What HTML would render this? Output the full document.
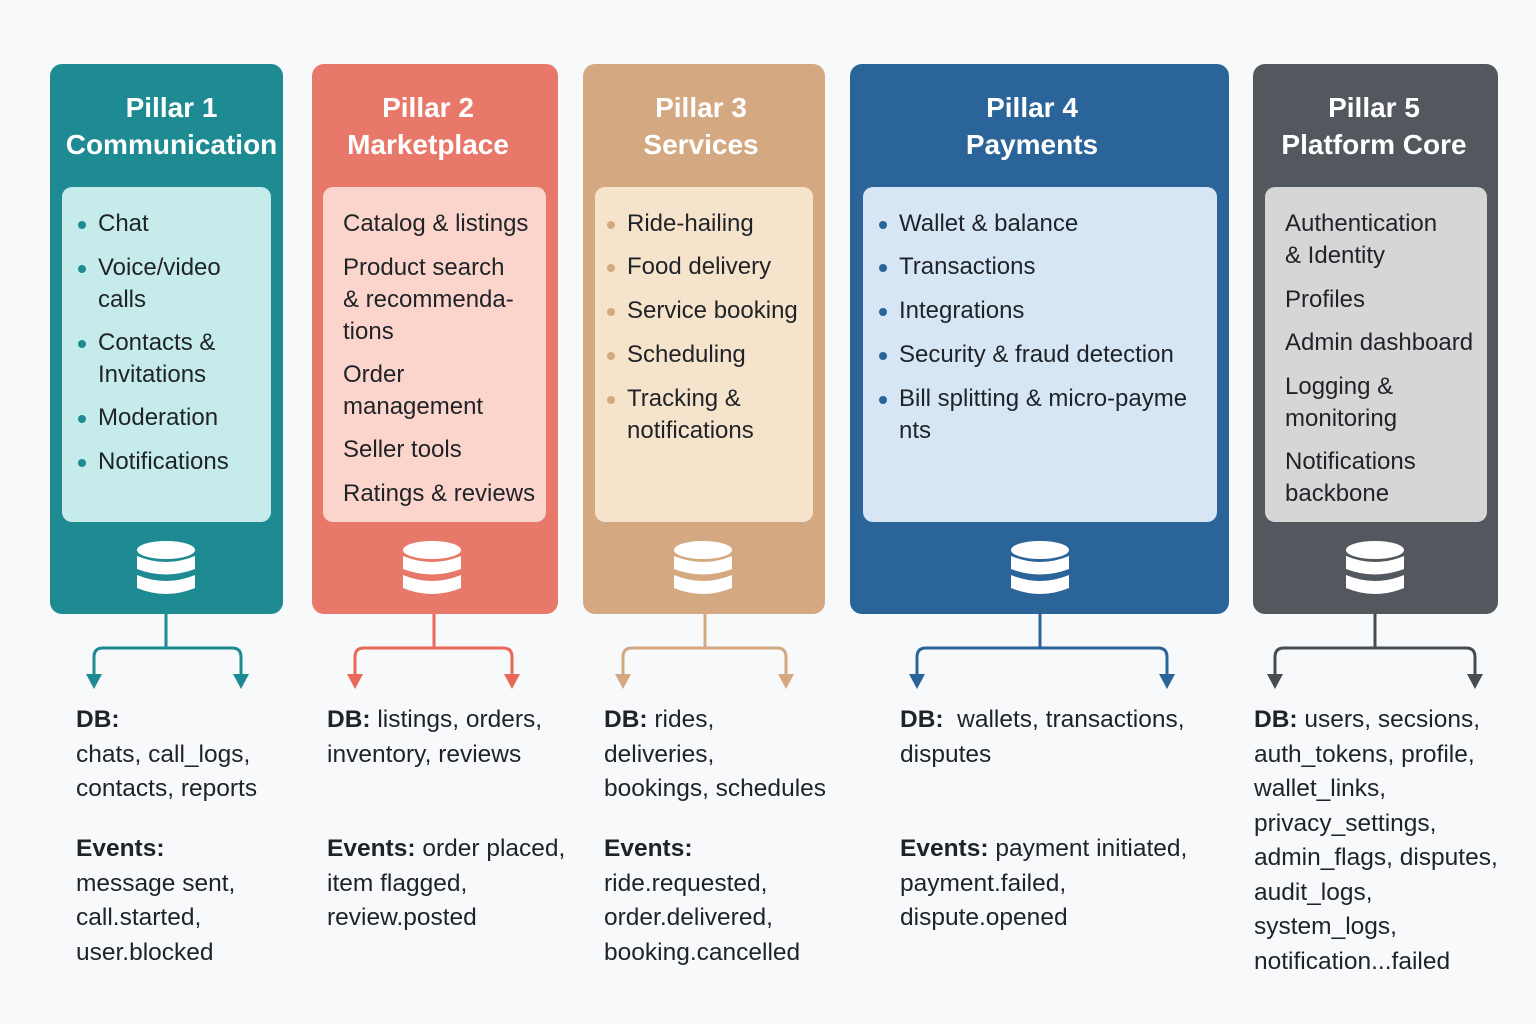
<!DOCTYPE html>
<html><head><meta charset="utf-8"><style>
body{margin:0;width:1536px;height:1024px;background:#f8f9fb;position:relative;overflow:hidden;font-family:"Liberation Sans",sans-serif}
.p{position:absolute;top:64px;height:550px;border-radius:12px}
.t{position:absolute;top:89px;color:#fff;font-weight:bold;font-size:28px;line-height:37px;text-align:center}
.in{position:absolute;top:187px;height:335px;border-radius:10px}
.l{position:absolute;font-size:24px;color:#1f2328;line-height:32px}
.b{position:absolute;font-size:24.5px;color:#1f2328;line-height:34.5px}
.dot{position:absolute;width:8px;height:8px;border-radius:50%}
svg{position:absolute;left:0;top:0}
</style></head><body>
<div class="p" style="left:50px;width:233px;background:#1e8a91"></div>
<div class="p" style="left:312px;width:246px;background:#e8786a"></div>
<div class="p" style="left:583px;width:242px;background:#d4a982"></div>
<div class="p" style="left:850px;width:379px;background:#2a6499"></div>
<div class="p" style="left:1253px;width:245px;background:#53575e"></div>

<div class="t" style="left:50px;width:243px">Pillar 1<br>Communication</div>
<div class="t" style="left:312px;width:232px">Pillar 2<br>Marketplace</div>
<div class="t" style="left:583px;width:236px">Pillar 3<br>Services</div>
<div class="t" style="left:850px;width:364px">Pillar 4<br>Payments</div>
<div class="t" style="left:1253px;width:242px">Pillar 5<br>Platform Core</div>

<div class="in" style="left:62px;width:209px;background:#c5ebea"></div>
<div class="in" style="left:323px;width:223px;background:#fbd5cc"></div>
<div class="in" style="left:595px;width:218px;background:#f6e3cc"></div>
<div class="in" style="left:863px;width:354px;background:#d6e6f5"></div>
<div class="in" style="left:1265px;width:222px;background:#d6d6d7"></div>

<div class="dot" style="left:78px;top:221px;background:#1e8a91"></div>
<div class="dot" style="left:78px;top:265px;background:#1e8a91"></div>
<div class="dot" style="left:78px;top:340px;background:#1e8a91"></div>
<div class="dot" style="left:78px;top:415px;background:#1e8a91"></div>
<div class="dot" style="left:78px;top:459px;background:#1e8a91"></div>
<div class="l" style="left:98px;top:208px">Chat</div>
<div class="l" style="left:98px;top:252px">Voice/video<br>calls</div>
<div class="l" style="left:98px;top:327px">Contacts &amp;<br>Invitations</div>
<div class="l" style="left:98px;top:402px">Moderation</div>
<div class="l" style="left:98px;top:446px">Notifications</div>

<div class="l" style="left:343px;top:208px">Catalog &amp; listings</div>
<div class="l" style="left:343px;top:252px">Product search<br>&amp; recommenda-<br>tions</div>
<div class="l" style="left:343px;top:359px">Order<br>management</div>
<div class="l" style="left:343px;top:434px">Seller tools</div>
<div class="l" style="left:343px;top:478px">Ratings &amp; reviews</div>

<div class="dot" style="left:607px;top:221px;background:#d4a982"></div>
<div class="dot" style="left:607px;top:264px;background:#d4a982"></div>
<div class="dot" style="left:607px;top:308px;background:#d4a982"></div>
<div class="dot" style="left:607px;top:352px;background:#d4a982"></div>
<div class="dot" style="left:607px;top:396px;background:#d4a982"></div>
<div class="l" style="left:627px;top:208px">Ride-hailing</div>
<div class="l" style="left:627px;top:251px">Food delivery</div>
<div class="l" style="left:627px;top:295px">Service booking</div>
<div class="l" style="left:627px;top:339px">Scheduling</div>
<div class="l" style="left:627px;top:383px">Tracking &amp;<br>notifications</div>

<div class="dot" style="left:879px;top:221px;background:#2a6499"></div>
<div class="dot" style="left:879px;top:264px;background:#2a6499"></div>
<div class="dot" style="left:879px;top:308px;background:#2a6499"></div>
<div class="dot" style="left:879px;top:352px;background:#2a6499"></div>
<div class="dot" style="left:879px;top:396px;background:#2a6499"></div>
<div class="l" style="left:899px;top:208px">Wallet &amp; balance</div>
<div class="l" style="left:899px;top:251px">Transactions</div>
<div class="l" style="left:899px;top:295px">Integrations</div>
<div class="l" style="left:899px;top:339px">Security &amp; fraud detection</div>
<div class="l" style="left:899px;top:383px">Bill splitting &amp; micro-payme<br>nts</div>

<div class="l" style="left:1285px;top:208px">Authentication<br>&amp; Identity</div>
<div class="l" style="left:1285px;top:284px">Profiles</div>
<div class="l" style="left:1285px;top:327px">Admin dashboard</div>
<div class="l" style="left:1285px;top:371px">Logging &amp;<br>monitoring</div>
<div class="l" style="left:1285px;top:446px">Notifications<br>backbone</div>

<svg width="1536" height="1024">
<defs>
<g id="db" fill="#fff">
<ellipse cx="0" cy="8" rx="29" ry="9"/>
<path d="M-29 14 Q0 26 29 14 V27 Q0 38 -29 27Z"/>
<path d="M-29 33 Q0 45 29 33 V46 Q0 58 -29 46Z"/>
</g>
</defs>
<use href="#db" x="166" y="542"/>
<use href="#db" x="432" y="542"/>
<use href="#db" x="703" y="542"/>
<use href="#db" x="1040" y="542"/>
<use href="#db" x="1375" y="542"/>
<g fill="none" stroke-width="3">
<path d="M166 614V648M94 676V657Q94 648 103 648H232Q241 648 241 657V676" stroke="#1e8a91"/>
<path d="M434 614V648M355 676V657Q355 648 364 648H503Q512 648 512 657V676" stroke="#e8685a"/>
<path d="M705 614V648M623 676V657Q623 648 632 648H777Q786 648 786 657V676" stroke="#d4a982"/>
<path d="M1040 614V648M917 676V657Q917 648 926 648H1158Q1167 648 1167 657V676" stroke="#2a6499"/>
<path d="M1375 614V648M1275 676V657Q1275 648 1284 648H1466Q1475 648 1475 657V676" stroke="#484c52"/>
</g>
<g>
<path d="M86 674h16l-8 15z" fill="#1e8a91"/><path d="M233 674h16l-8 15z" fill="#1e8a91"/>
<path d="M347 674h16l-8 15z" fill="#e8685a"/><path d="M504 674h16l-8 15z" fill="#e8685a"/>
<path d="M615 674h16l-8 15z" fill="#d4a982"/><path d="M778 674h16l-8 15z" fill="#d4a982"/>
<path d="M909 674h16l-8 15z" fill="#2a6499"/><path d="M1159 674h16l-8 15z" fill="#2a6499"/>
<path d="M1267 674h16l-8 15z" fill="#484c52"/><path d="M1467 674h16l-8 15z" fill="#484c52"/>
</g>
</svg>

<div class="b" style="left:76px;top:703px"><b>DB:</b><br>chats, call_logs,<br>contacts, reports</div>
<div class="b" style="left:76px;top:832px"><b>Events:</b><br>message sent,<br>call.started,<br>user.blocked</div>
<div class="b" style="left:327px;top:703px"><b>DB:</b> listings, orders,<br>inventory, reviews</div>
<div class="b" style="left:327px;top:832px"><b>Events:</b> order placed,<br>item flagged,<br>review.posted</div>
<div class="b" style="left:604px;top:703px"><b>DB:</b> rides,<br>deliveries,<br>bookings, schedules</div>
<div class="b" style="left:604px;top:832px"><b>Events:</b><br>ride.requested,<br>order.delivered,<br>booking.cancelled</div>
<div class="b" style="left:900px;top:703px"><b>DB:</b>&nbsp; wallets, transactions,<br>disputes</div>
<div class="b" style="left:900px;top:832px"><b>Events:</b> payment initiated,<br>payment.failed,<br>dispute.opened</div>
<div class="b" style="left:1254px;top:703px"><b>DB:</b> users, secsions,<br>auth_tokens, profile,<br>wallet_links,<br>privacy_settings,<br>admin_flags, disputes,<br>audit_logs,<br>system_logs,<br>notification...failed</div>
</body></html>
